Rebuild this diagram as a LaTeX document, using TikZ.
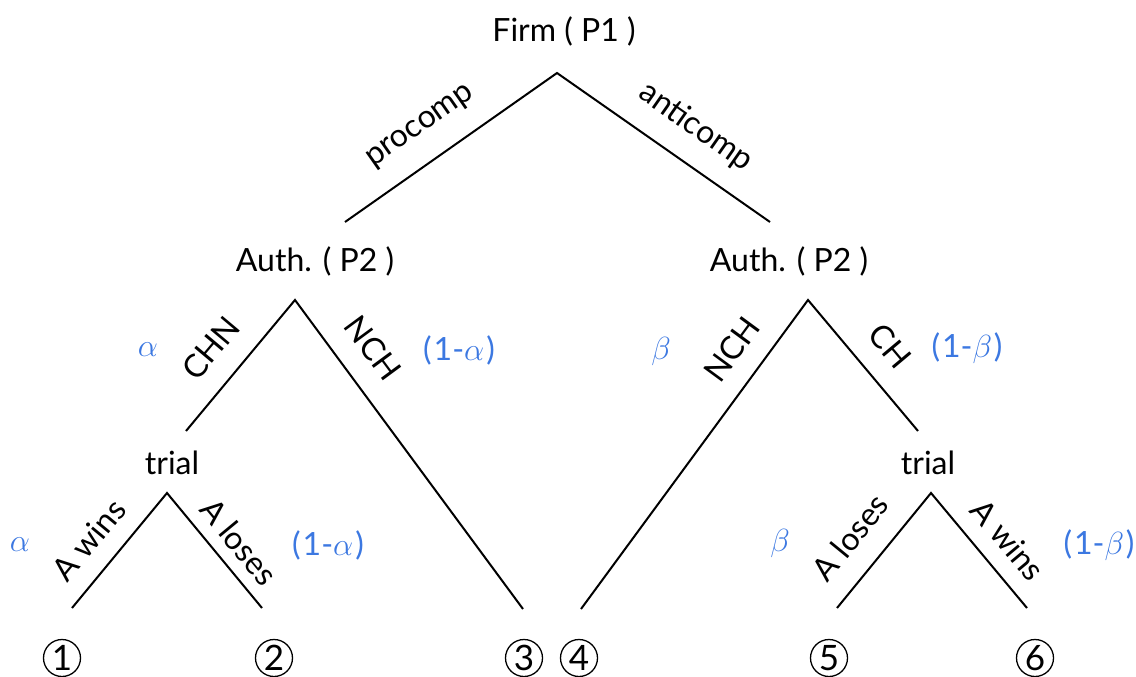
\RequirePackage{fix-cm}
\documentclass[tikz,border=0pt]{standalone}
\usepackage{fontspec}
\setmainfont{Lato}
\definecolor{probblue}{RGB}{60,120,225}
\begin{document}
\begin{tikzpicture}[x=1pt,y=1pt,
    every node/.style={font=\fontsize{32}{38}\selectfont},
    prob/.style={text=probblue},
    outcome/.style={draw,circle,line width=1.3pt,minimum size=37pt,inner sep=0pt,
      font=\fontsize{35}{40}\selectfont},
    branch/.style={line width=2pt}]
  \useasboundingbox (0,0) rectangle (1136,-677);
  \node (firm) at (564,-31) {Firm ( P1 )};
  \node (authL) at (315,-261) {Auth. ( P2 )};
  \node (authR) at (789,-261) {Auth. ( P2 )};
  \node (trialL) at (172,-463) {trial};
  \node (trialR) at (928,-463) {trial};
  \foreach \x/\n in {62/1,274/2,524/3,579/4,829/5,1035/6}
    \node[outcome] (out\n) at (\x,-658) {\n};

  \coordinate (firmtip) at (557,-73);
  \coordinate (authLtip) at (295,-300);
  \coordinate (authRtip) at (808,-300);
  \coordinate (trialLtip) at (167,-493);
  \coordinate (trialRtip) at (931,-493);
  \coordinate (pro) at (345,-222);
  \coordinate (anti) at (770,-222);
  \coordinate (chn) at (186,-431);
  \coordinate (ch) at (918,-431);
  \coordinate (end3) at (523,-609);
  \coordinate (end4) at (581,-609);
  \coordinate (end1) at (72,-608);
  \coordinate (end2) at (262,-608);
  \coordinate (end5) at (837,-608);
  \coordinate (end6) at (1027,-608);
  \draw[branch]
    (pro) -- (firmtip) -- (anti)
    (chn) -- (authLtip) -- (end3)
    (end4) -- (authRtip) -- (ch)
    (end1) -- (trialLtip) -- (end2)
    (end5) -- (trialRtip) -- (end6)
  ;

  \node[rotate=35] (procomp) at (421,-127) {procomp};
  \node[rotate=-35] (anticomp) at (696,-127) {anticomp};
  \node[rotate=50] (chnlab) at (211,-348) {CHN};
  \node[rotate=-53.6] (nchLlab) at (373,-348) {NCH};
  \node[rotate=53.7] (nchRlab) at (732,-349) {NCH};
  \node[rotate=-50] (chlab) at (890,-346) {CH};
  \node[rotate=50.4] (winsL) at (89,-540) {A wins};
  \node[rotate=-50.4] (losesL) at (239,-542) {A loses};
  \node[rotate=50.7] (losesR) at (850,-537) {A loses};
  \node[rotate=-50.1] (winsR) at (1008,-540) {A wins};

  \node[prob] (alphaT) at (148,-350) {$\alpha$};
  \node[prob] (alphaTc) at (459,-350) {(\hspace{2pt}1-$\alpha$\hspace{2pt})};
  \node[prob] (betaT) at (661,-351) {$\beta$};
  \node[prob] (betaTc) at (967,-348) {(\hspace{2pt}1-$\beta$\hspace{2pt})};
  \node[prob] (alphaB) at (20,-545) {$\alpha$};
  \node[prob] (alphaBc) at (328,-545) {(\hspace{2pt}1-$\alpha$\hspace{2pt})};
  \node[prob] (betaB) at (780,-543) {$\beta$};
  \node[prob] (betaBc) at (1099,-545) {(\hspace{2pt}1-$\beta$\hspace{2pt})};
\end{tikzpicture}
\end{document}
